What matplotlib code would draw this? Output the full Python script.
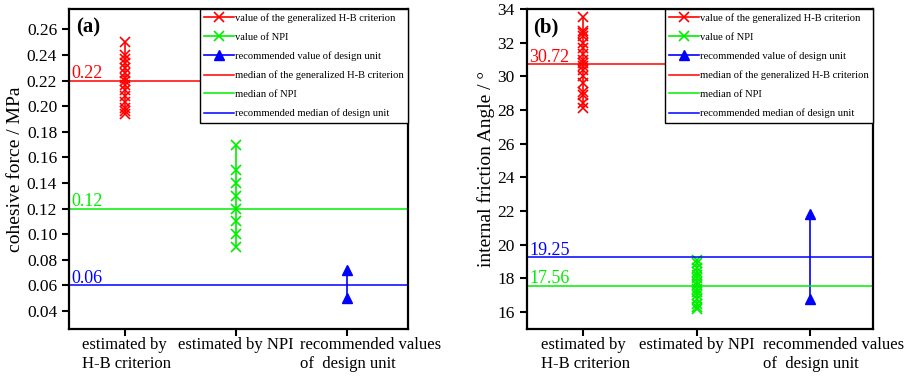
import numpy as np
import matplotlib.pyplot as plt

plt.rcParams['font.family'] = ['Liberation Serif', 'DejaVu Serif']

categories = ["estimated by\nH-B criterion", "estimated by NPI", "recommended values\nof  design unit"]
legend_labels = ["value of the generalized H-B criterion", "value of NPI",
                 "recommended value of design unit", "median of the generalized H-B criterion",
                 "median of NPI", "recommended median of design unit"]

# (a) cohesive force / MPa
hb_cohesion = [0.25, 0.24, 0.237, 0.234, 0.23, 0.226, 0.222, 0.22, 0.217, 0.213,
               0.208, 0.203, 0.199, 0.196, 0.194]
npi_cohesion = [0.17, 0.15, 0.14, 0.13, 0.12, 0.11, 0.10, 0.09]
design_cohesion = [0.05, 0.072]
median_cohesion = [0.22, 0.12, 0.06]

# (b) internal friction angle / deg
hb_friction = [33.5, 32.7, 32.55, 32.4, 32.0, 31.7, 31.3, 31.0, 30.8, 30.6, 30.4,
               30.0, 29.6, 29.1, 28.9, 28.4, 28.1]
npi_friction = [19.1, 18.9, 18.6, 18.4, 18.2, 18.0, 17.8, 17.6, 17.4, 17.2, 17.0,
                16.8, 16.5, 16.3, 16.2]
design_friction = [16.8, 21.8]
median_friction = [30.72, 17.56, 19.25]

colors = ['#ff0000', '#00ee00', '#0000ff']
label_shift = [1.5, 0, 17]  # points, the category labels sit a bit off their ticks


def draw_panel(ax, hb, npi, design, medians, tag, ylabel, ylim, yticks, fmt):
    h1, = ax.plot([1] * len(hb), hb, color=colors[0], marker='x', ms=7, mew=1.2, lw=1.2)
    h2, = ax.plot([2] * len(npi), npi, color=colors[1], marker='x', ms=7, mew=1.2, lw=1.2)
    h3, = ax.plot([3] * len(design), design, color=colors[2], marker='^', ms=7, lw=1.2)
    handles = [h1, h2, h3]
    for m, c in zip(medians, colors):
        h = ax.axhline(m, color=c, lw=1.1)
        handles.append(h)
        ax.annotate(fmt.format(m), xy=(0, m), xycoords=('axes fraction', 'data'),
                    xytext=(2, -1), textcoords='offset points', color=c,
                    fontsize=13, va='bottom', ha='left')

    ax.set_xlim(0.5, 3.55)
    ax.set_ylim(*ylim)
    ax.set_yticks(yticks)
    ax.set_xticks([1, 2, 3])
    ax.set_xticklabels(['', '', ''])
    for i, cat in enumerate(categories):
        ax.annotate(cat, xy=(i + 1, 0), xycoords=('data', 'axes fraction'),
                    xytext=(label_shift[i], -6), textcoords='offset points',
                    ha='center', va='top', multialignment='left', fontsize=12,
                    annotation_clip=False)
    ax.set_ylabel(ylabel, fontsize=14, labelpad=2)
    ax.tick_params(axis='both', direction='out', length=5, width=1.5, labelsize=12.5)
    for sp in ax.spines.values():
        sp.set_linewidth(1.6)
    ax.text(0.02, 0.975, tag, transform=ax.transAxes, fontsize=15, fontweight='bold',
            va='top', ha='left')

    leg = ax.legend(handles, legend_labels, loc='upper right', fontsize=7.6,
                    borderaxespad=0, handlelength=2.8, handletextpad=0.1,
                    labelspacing=0.9, fancybox=False, framealpha=1,
                    borderpad=0.4)
    leg.get_frame().set_edgecolor('black')
    leg.get_frame().set_linewidth(1.0)


fig = plt.figure(figsize=(9.06, 3.78), dpi=100)
ax1 = fig.add_axes([0.0762, 0.1296, 0.3742, 0.8466])
ax2 = fig.add_axes([0.5813, 0.1296, 0.3819, 0.8466])

draw_panel(ax1, hb_cohesion, npi_cohesion, design_cohesion, median_cohesion, '(a)',
           'cohesive force / MPa', (0.026, 0.276), np.arange(0.04, 0.27, 0.02), '{:.2f}')
ax1.set_yticklabels([f'{v:.2f}' for v in np.arange(0.04, 0.27, 0.02)])
draw_panel(ax2, hb_friction, npi_friction, design_friction, median_friction, '(b)',
           'internal friction Angle / °', (15, 34), np.arange(16, 35, 2), '{:.2f}')

fig.savefig('out.png', dpi=100)
